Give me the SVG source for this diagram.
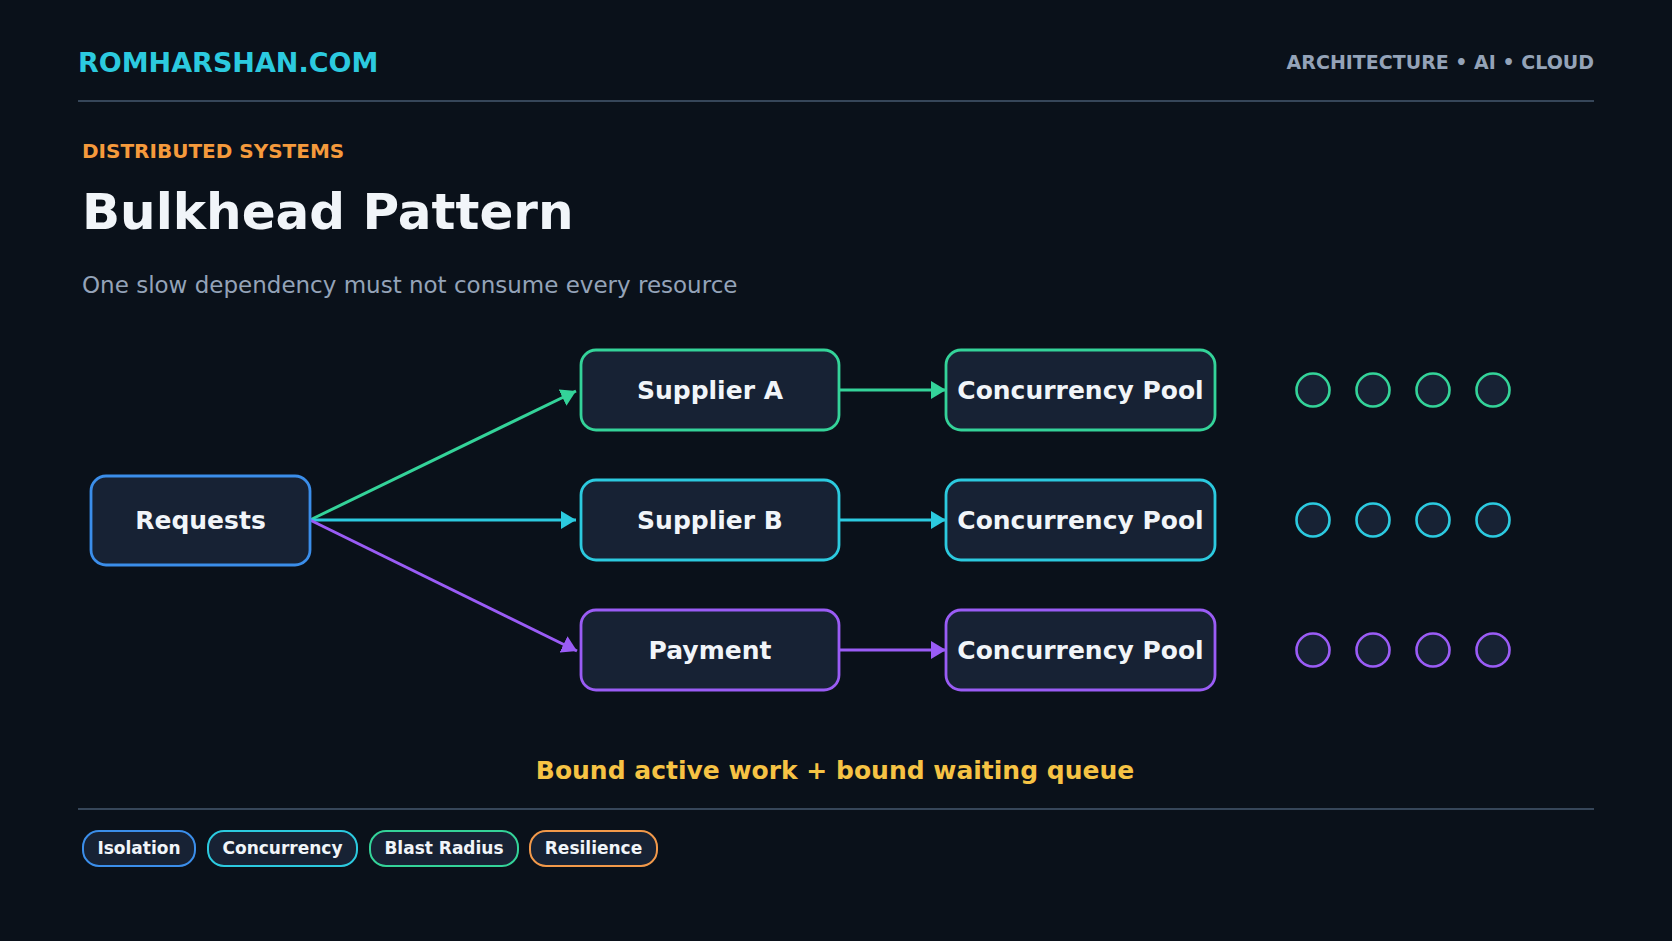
<svg xmlns="http://www.w3.org/2000/svg" width="1672" height="941" viewBox="0 0 1672 941">
<defs>
<style>
text{font-family:"DejaVu Sans","Verdana",sans-serif}
.b{font-weight:bold}
.node{fill:#172234;stroke-width:2.8}
.nl{font-size:25px;font-weight:bold;fill:#f1f5f9;text-anchor:middle}
.conn{fill:none;stroke-width:3}
.pill{fill:#172234;stroke-width:2}
.pt{font-size:17px;font-weight:bold;fill:#f1f5f9;text-anchor:middle}
.dot{fill:#172234;stroke-width:2.6}
.g{stroke:#34d399}.c{stroke:#2ccadf}.p{stroke:#9a5cf5}.bl{stroke:#3b8eea}.o{stroke:#f2994a}
</style>
<marker id="ag" markerUnits="userSpaceOnUse" markerWidth="16" markerHeight="18" refX="15" refY="9" orient="auto"><path d="M0,0 L15,9 L0,18 z" fill="#34d399"/></marker>
<marker id="ac" markerUnits="userSpaceOnUse" markerWidth="16" markerHeight="18" refX="15" refY="9" orient="auto"><path d="M0,0 L15,9 L0,18 z" fill="#2ccadf"/></marker>
<marker id="ap" markerUnits="userSpaceOnUse" markerWidth="16" markerHeight="18" refX="15" refY="9" orient="auto"><path d="M0,0 L15,9 L0,18 z" fill="#9a5cf5"/></marker>
</defs>
<rect width="1672" height="941" fill="#0a111a"/>

<g id="header">
<text x="78" y="72" class="b" font-size="27" fill="#2ccadf">ROMHARSHAN.COM</text>
<text x="1594" y="69" class="b" font-size="19" fill="#94a3b8" text-anchor="end">ARCHITECTURE • AI • CLOUD</text>
<line x1="78" y1="101" x2="1594" y2="101" stroke="#364659" stroke-width="2"/>
<text x="82" y="158" class="b" font-size="20" fill="#f59a3c">DISTRIBUTED SYSTEMS</text>
<text x="82" y="229" class="b" font-size="50" fill="#f1f5f9">Bulkhead Pattern</text>
<text x="82" y="293" font-size="23" fill="#94a3b8">One slow dependency must not consume every resource</text>
</g>

<g id="connectors">
<line class="conn g" x1="310" y1="520" x2="576" y2="391" marker-end="url(#ag)"/>
<line class="conn c" x1="310" y1="520" x2="576" y2="520" marker-end="url(#ac)"/>
<line class="conn p" x1="310" y1="520" x2="577" y2="651" marker-end="url(#ap)"/>
<line class="conn g" x1="839" y1="390" x2="946" y2="390" marker-end="url(#ag)"/>
<line class="conn c" x1="839" y1="520" x2="946" y2="520" marker-end="url(#ac)"/>
<line class="conn p" x1="839" y1="650" x2="946" y2="650" marker-end="url(#ap)"/>
</g>

<g id="requests">
<rect class="node bl" x="91" y="476" width="219" height="89" rx="15"/>
<text class="nl" x="200.5" y="529">Requests</text>
</g>
<g id="supplier-a">
<rect class="node g" x="581" y="350" width="258" height="80" rx="15"/>
<text class="nl" x="710" y="399">Supplier A</text>
</g>
<g id="supplier-b">
<rect class="node c" x="581" y="480" width="258" height="80" rx="15"/>
<text class="nl" x="710" y="529">Supplier B</text>
</g>
<g id="payment">
<rect class="node p" x="581" y="610" width="258" height="80" rx="15"/>
<text class="nl" x="710" y="659">Payment</text>
</g>
<g id="pool-a">
<rect class="node g" x="946" y="350" width="269" height="80" rx="15"/>
<text class="nl" x="1080.5" y="399">Concurrency Pool</text>
</g>
<g id="pool-b">
<rect class="node c" x="946" y="480" width="269" height="80" rx="15"/>
<text class="nl" x="1080.5" y="529">Concurrency Pool</text>
</g>
<g id="pool-p">
<rect class="node p" x="946" y="610" width="269" height="80" rx="15"/>
<text class="nl" x="1080.5" y="659">Concurrency Pool</text>
</g>

<g id="slots-a">
<circle class="dot g" cx="1313" cy="390" r="16.5"/><circle class="dot g" cx="1373" cy="390" r="16.5"/><circle class="dot g" cx="1433" cy="390" r="16.5"/><circle class="dot g" cx="1493" cy="390" r="16.5"/>
</g>
<g id="slots-b">
<circle class="dot c" cx="1313" cy="520" r="16.5"/><circle class="dot c" cx="1373" cy="520" r="16.5"/><circle class="dot c" cx="1433" cy="520" r="16.5"/><circle class="dot c" cx="1493" cy="520" r="16.5"/>
</g>
<g id="slots-p">
<circle class="dot p" cx="1313" cy="650" r="16.5"/><circle class="dot p" cx="1373" cy="650" r="16.5"/><circle class="dot p" cx="1433" cy="650" r="16.5"/><circle class="dot p" cx="1493" cy="650" r="16.5"/>
</g>

<g id="footer">
<text x="835" y="779" class="b" font-size="25" fill="#f6c344" text-anchor="middle">Bound active work + bound waiting queue</text>
<line x1="78" y1="809" x2="1594" y2="809" stroke="#364659" stroke-width="2"/>
<g id="tag-isolation"><rect class="pill bl" x="83" y="831" width="112" height="35" rx="16"/><text class="pt" x="139" y="854">Isolation</text></g>
<g id="tag-concurrency"><rect class="pill c" x="208" y="831" width="149" height="35" rx="16"/><text class="pt" x="282.5" y="854">Concurrency</text></g>
<g id="tag-blast"><rect class="pill g" x="370" y="831" width="148" height="35" rx="16"/><text class="pt" x="444" y="854">Blast Radius</text></g>
<g id="tag-resilience"><rect class="pill o" x="530" y="831" width="127" height="35" rx="16"/><text class="pt" x="593.5" y="854">Resilience</text></g>
</g>
</svg>
